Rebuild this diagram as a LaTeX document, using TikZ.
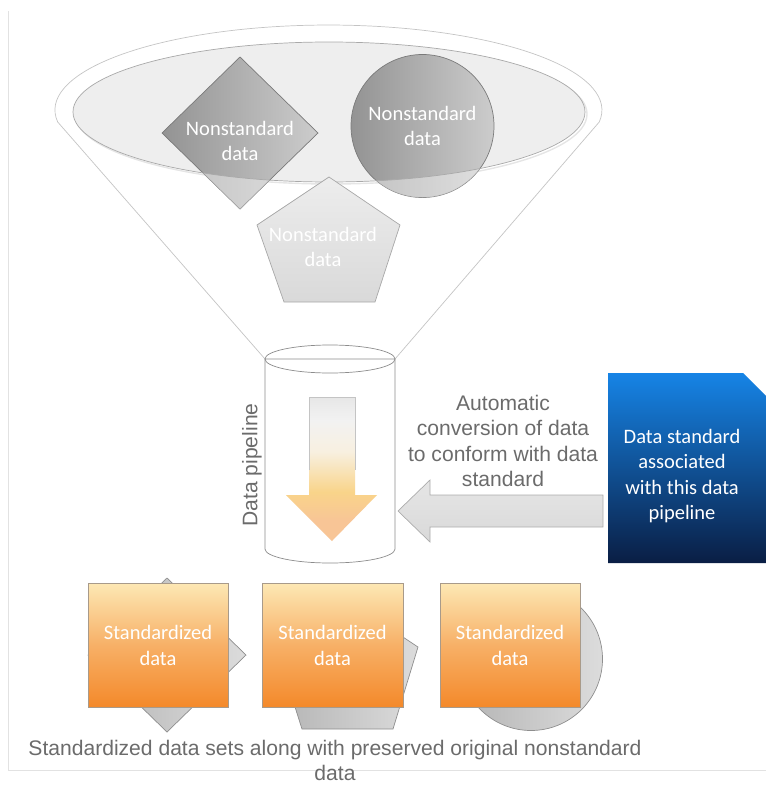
\documentclass[tikz,border=0pt]{standalone}
\usepackage{fontspec}
\setmainfont{Liberation Sans}
\newfontfamily\calibri{Carlito}
\definecolor{txtgray}{HTML}{6B6B6B}
\definecolor{framegray}{HTML}{E2E2E2}
\definecolor{funnelgray}{HTML}{C4C4C4}
\definecolor{ellfill}{HTML}{EEEEEE}
\definecolor{ellline}{HTML}{A9A9A9}
\definecolor{dgL}{HTML}{939393}
\definecolor{dgR}{HTML}{CCCCCC}
\definecolor{dgB}{HTML}{7A7A7A}
\definecolor{pgT}{HTML}{EDEDED}
\definecolor{pgB}{HTML}{D9D9D9}
\definecolor{pgD}{HTML}{A8A8A8}
\definecolor{cylline}{HTML}{8C8C8C}
\definecolor{peach}{HTML}{F8C596}
\definecolor{ylw}{HTML}{F9D48A}
\definecolor{cream}{HTML}{F8F0E0}
\definecolor{wgray}{HTML}{F2F2F2}
\definecolor{lgray}{HTML}{DEDEDE}
\definecolor{mgray}{HTML}{C4C4C4}
\definecolor{blueT}{HTML}{1684E6}
\definecolor{blueM}{HTML}{0A57AE}
\definecolor{blueB}{HTML}{0A1E44}
\definecolor{orT}{HTML}{FDE8B4}
\definecolor{orM}{HTML}{F7B067}
\definecolor{orB}{HTML}{F4892A}
\definecolor{orD}{HTML}{A89A8A}
\definecolor{lsL}{HTML}{B4B4B4}
\definecolor{lsR}{HTML}{DCDCDC}
\definecolor{lsD}{HTML}{8E8E8E}
\pgfdeclareverticalshading{pipearrow}{100bp}{color(0bp)=(peach); color(32bp)=(peach); color(42bp)=(ylw); color(56bp)=(cream); color(67bp)=(wgray); color(81bp)=(lgray); color(100bp)=(mgray)}
\tikzset{
  thinline/.style={line width=0.6pt},
  nstext/.style={font=\calibri\fontsize{17.5}{21.7}\selectfont, text=white, align=center, inner sep=0pt},
  sttext/.style={font=\calibri\fontsize{17.5}{21.7}\selectfont, text=white, align=center, inner sep=0pt},
  graytext/.style={font=\fontsize{18}{21.7}\selectfont, text=txtgray, align=center, inner sep=0pt},
  orangebox/.style={top color=orT, bottom color=orB, middle color=orM, draw=orD, thinline},
  leftover/.style={left color=lsL, right color=lsR, draw=lsD, thinline},
}
\begin{document}
\begin{tikzpicture}[x=0.03cm,y=-0.03cm]
\useasboundingbox (0,0) rectangle (766,785);
% frame lines
\draw[framegray, thinline] (8,11) -- (8,770) -- (766,770);
% funnel outline
\draw[funnelgray, thinline] (265,359) -- (57.7,122) arc[start angle=171.9, end angle=368.1, x radius=273.5, y radius=85] -- (395,359);
% inner ellipse fill with faint shadow
\draw[gray!20, line width=1.2pt] (331,114) ellipse[x radius=256, y radius=70];
\fill[ellfill] (329,112) ellipse[x radius=256, y radius=70];
% diamond and circle
\shadedraw[left color=dgL, right color=dgR, draw=dgB, thinline] (240,57) -- (318,133) -- (240,209) -- (162,133) -- cycle;
\shadedraw[left color=dgL, right color=dgR, draw=dgB, thinline] (422.5,126) circle[radius=71.5];
\begin{scope}
\clip (240,57) -- (318,133) -- (240,209) -- (162,133) -- cycle (422.5,126) circle[radius=71.5];
\fill[white, opacity=0.42, even odd rule] (0,0) rectangle (766,300) (329,112) ellipse[x radius=256, y radius=70];
\end{scope}
\draw[ellline, thinline] (329,112) ellipse[x radius=256, y radius=70];
\node[nstext] (ns1) at (240,141) {Nonstandard\\data};
\node[nstext] (ns2) at (422.5,126) {Nonstandard\\data};
% pentagon
\shadedraw[top color=pgT, bottom color=pgB, draw=pgD, thinline] (329,177) -- (400,225) -- (375,302) -- (284,302) -- (257,225) -- cycle;
\node[nstext] (ns3) at (323,247) {Nonstandard\\data};
% cylinder
\filldraw[fill=white, draw=cylline, thinline] (265,359) -- (265,549) arc[start angle=180, end angle=0, x radius=65, y radius=14] -- (395,359) -- cycle;
\draw[cylline, thinline] (330,359) ellipse[x radius=65, y radius=14];
% arrow inside cylinder
\shade[shading=pipearrow] (309,397) -- (355,397) -- (355,495) -- (377,495) -- (332,541) -- (286,495) -- (309,495) -- cycle;
\draw[mgray, thinline] (309,470) -- (309,397) -- (355,397) -- (355,470);
\node[graytext, rotate=90] (pipe) at (252,465) {Data pipeline};
% conversion text
\node[graytext] (conv) at (503,441) {Automatic\\conversion of data\\to conform with data\\standard};
% gray left arrow
\shadedraw[top color=gray!20, bottom color=gray!30, draw=gray!65, thinline] (603,495) -- (430,495) -- (430,480) -- (398,511) -- (430,542) -- (430,527) -- (603,527) -- cycle;
% blue document
\shade[top color=blueT, middle color=blueM, bottom color=blueB] (608,373) -- (743,373) -- (766,396) -- (766,563) -- (608,563) -- cycle;
\node[nstext] (std) at (682,476) {Data standard\\associated\\with this data\\pipeline};
% original shapes behind the standardized boxes
\shadedraw[leftover] (167,578) -- (246,655) -- (167,732) -- (88,655) -- cycle;
\shadedraw[leftover] (347,600) -- (418,647) -- (393,729) -- (302,729) -- (276,647) -- cycle;
\shadedraw[leftover] (531,659) circle[radius=71.5];
% standardized boxes
\shadedraw[orangebox] (88,583) rectangle (228,707);
\shadedraw[orangebox] (262,583) rectangle (403,707);
\shadedraw[orangebox] (440,583) rectangle (580,707);
\node[sttext] (sd1) at (158,645.5) {Standardized\\data};
\node[sttext] (sd2) at (332.5,645.5) {Standardized\\data};
\node[sttext] (sd3) at (510,645.5) {Standardized\\data};
% caption
\node[graytext] (cap) at (335,760.5) {Standardized data sets along with preserved original nonstandard\\data};
\end{tikzpicture}
\end{document}
